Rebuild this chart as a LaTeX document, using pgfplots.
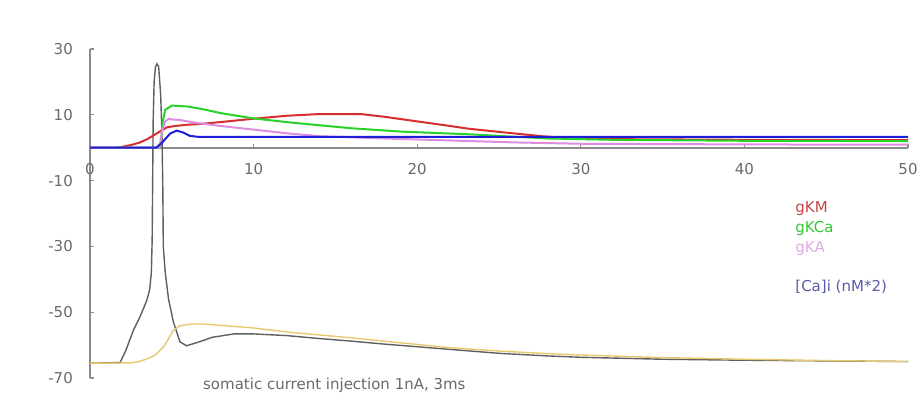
\documentclass[border=0pt]{standalone}
\usepackage{pgfplots}
\pgfplotsset{compat=1.18}
\usepackage{fontspec}
\setmainfont{DejaVu Sans}
\definecolor{axgray}{RGB}{140,140,140}
\definecolor{lblgray}{RGB}{105,105,105}
\definecolor{vmgray}{RGB}{95,95,95}
\definecolor{vyellow}{RGB}{232,200,110}
\definecolor{kmred}{RGB}{215,45,45}
\definecolor{kcagreen}{RGB}{40,210,40}
\definecolor{kapink}{RGB}{220,140,225}
\definecolor{cablue}{RGB}{30,30,215}
\definecolor{txred}{RGB}{200,70,70}
\definecolor{txgreen}{RGB}{50,200,50}
\definecolor{txpink}{RGB}{225,170,225}
\definecolor{txblue}{RGB}{90,90,170}
\newcommand{\ff}{\fontsize{15bp}{18bp}\selectfont}
\begin{document}
\begin{tikzpicture}
\ff
\begin{axis}[
  name=ax,
  scale only axis,
  width=818bp, height=329bp,
  xmin=0, xmax=50, ymin=-70, ymax=30,
  enlargelimits=false,
  axis x line=middle, axis y line=left,
  axis line style={-, draw=axgray, line width=1.6bp},
  hide obscured x ticks=false,
  xtick={0,10,20,30,40,50},
  xticklabels={0,10,20,30,40,50},
  ytick={-70,-50,-30,-10,10,30},
  yticklabels={-70,-50,-30,-10,10,30},
  xtick align=inside, ytick align=inside,
  major tick length=4bp,
  tick style={draw=axgray, line width=1.2bp},
  xticklabel style={anchor=base, yshift=-27bp, font=\ff, text=lblgray},
  yticklabel style={anchor=east, xshift=-12bp, font=\ff, text=lblgray},
  clip=false,
]
% membrane potential (gray)
\addplot[vmgray, line width=1.4bp] coordinates {
(0,-65.5) (1.84,-65.3) (2.2,-61.5) (2.65,-55.5) (3.0,-52) (3.3,-48.5) (3.5,-46) (3.65,-43) (3.75,-38) (3.8,-28) (3.83,-10) (3.86,8) (3.92,20) (4.0,24.5) (4.09,25.5) (4.2,24.5) (4.32,16) (4.4,4) (4.45,-12) (4.48,-30) (4.6,-38) (4.8,-46) (5.1,-53) (5.5,-59) (5.9,-60.2) (6.5,-59.3) (7.5,-57.6) (8.8,-56.6) (10,-56.6) (12,-57.1) (14,-58) (16,-58.8) (18,-59.7) (20,-60.5) (22,-61.3) (25,-62.5) (28,-63.3) (30,-63.7) (35,-64.3) (40,-64.6) (45,-64.8) (50,-65)
};
% yellow trace
\addplot[vyellow, line width=1.4bp] coordinates {
(0,-65.5) (2.5,-65.4) (3.0,-65.0) (3.5,-64.2) (4.0,-63) (4.5,-60.5) (4.8,-58) (5.1,-55.5) (5.5,-54.1) (6.2,-53.6) (7,-53.6) (8,-54) (10,-54.8) (12,-56) (14,-56.9) (16,-57.8) (18,-58.8) (20,-59.8) (22,-60.8) (25,-61.8) (28,-62.6) (30,-63) (35,-63.8) (40,-64.3) (45,-64.7) (50,-65)
};
% gKM
\addplot[kmred, line width=2bp] coordinates {
(0,0) (1.6,0) (2,0.3) (2.5,0.8) (3,1.5) (3.5,2.6) (3.8,3.5) (4.3,5) (4.7,6.2) (5.2,6.6) (6,7) (6.7,7.2) (8,7.8) (9,8.3) (10,8.8) (12,9.7) (13.9,10.2) (16.6,10.2) (18,9.4) (20,8) (22,6.6) (23.1,5.8) (25,4.8) (26.2,4.2) (27.6,3.5) (29,3) (32,2.6) (40,2.4) (50,2.3)
};
% gKCa
\addplot[kcagreen, line width=2bp] coordinates {
(0,0) (4.3,0) (4.45,8) (4.6,11.5) (5.0,12.8) (6,12.5) (7,11.6) (8,10.5) (10,8.9) (12,7.8) (13,7.3) (16,5.9) (19,4.9) (23.5,4) (26,3.3) (28,2.8) (32,2.4) (40,2.1) (50,2)
};
% gKA
\addplot[kapink, line width=2bp] coordinates {
(0,0) (4.25,0) (4.4,5) (4.6,8) (4.8,8.7) (5.5,8.4) (6.7,7.4) (8,6.6) (10,5.5) (12,4.4) (14,3.5) (18,2.8) (22,2.2) (26,1.6) (30,1.2) (40,1) (50,0.9)
};
% [Ca]i
\addplot[cablue, line width=2bp] coordinates {
(0,0) (4.05,0) (4.4,1.5) (4.9,4.3) (5.3,5.2) (5.7,4.6) (6.1,3.6) (6.6,3.3) (10,3.3) (30,3.3) (50,3.3)
};
\node[anchor=west, text=txred, font=\ff] at (axis cs:42.8,-18.5) {gKM};
\node[anchor=west, text=txgreen, font=\ff] at (axis cs:42.8,-24.6) {gKCa};
\node[anchor=west, text=txpink, font=\ff] at (axis cs:42.8,-30.7) {gKA};
\node[anchor=west, text=txblue, font=\ff] at (axis cs:42.8,-42.2) {[Ca]i (nM*2)};
\node[anchor=west, text=lblgray, font=\ff] at (axis cs:6.6,-72.2) {somatic current injection 1nA, 3ms};
\end{axis}
\pgfresetboundingbox
\path[use as bounding box] ([xshift=-90bp,yshift=-16bp]ax.south west) rectangle ([xshift=15bp,yshift=49bp]ax.north east);
\end{tikzpicture}
\end{document}
